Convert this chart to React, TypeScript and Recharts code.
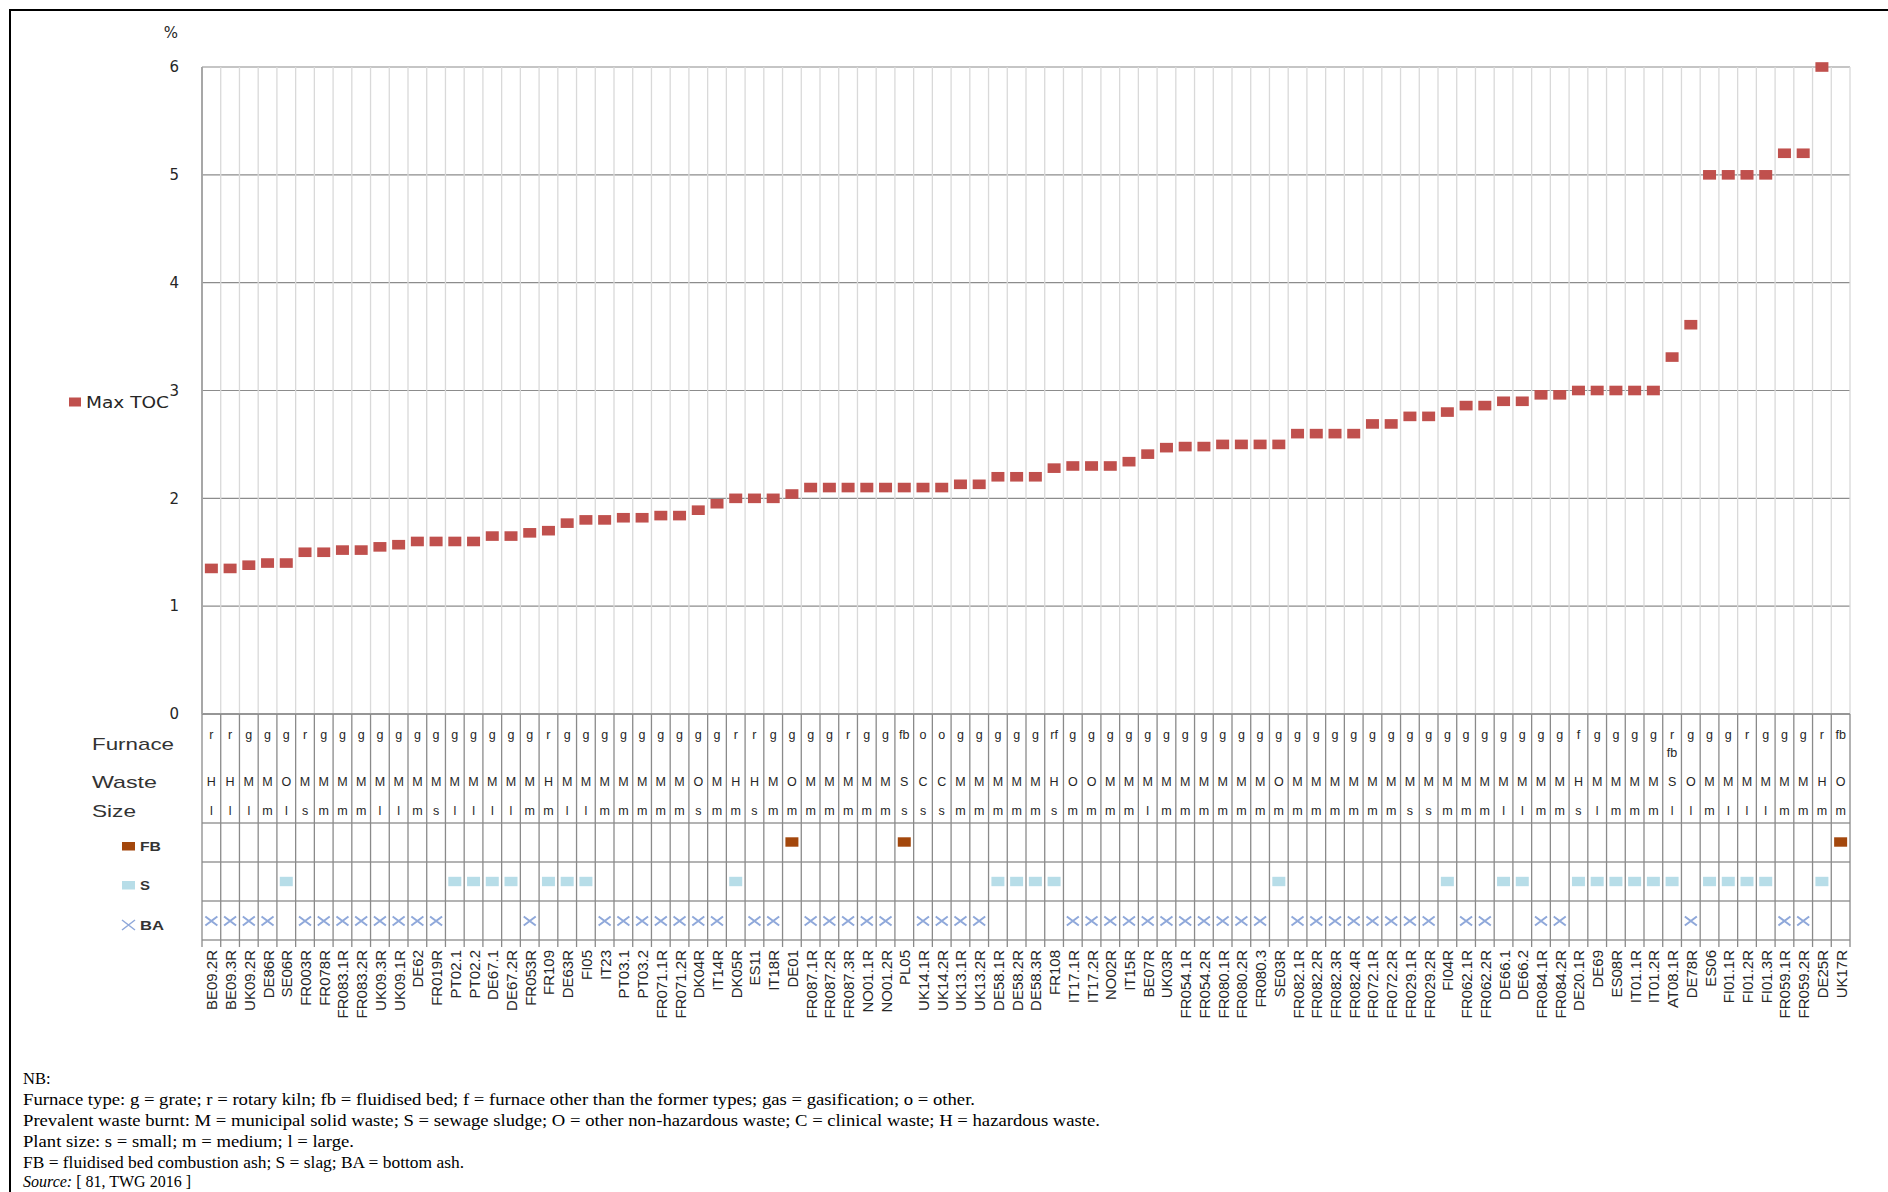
import React from 'react';
import { ComposedChart, Scatter, XAxis, YAxis, CartesianGrid, ReferenceLine } from 'recharts';

// ---------- data ----------
const CATEGORIES = [
  'BE09.2R', 'BE09.3R', 'UK09.2R', 'DE86R', 'SE06R', 'FR003R', 'FR078R', 'FR083.1R', 'FR083.2R', 'UK09.3R', 'UK09.1R',
  'DE62', 'FR019R', 'PT02.1', 'PT02.2', 'DE67.1', 'DE67.2R', 'FR053R', 'FR109', 'DE63R', 'FI05', 'IT23',
  'PT03.1', 'PT03.2', 'FR071.1R', 'FR071.2R', 'DK04R', 'IT14R', 'DK05R', 'ES11', 'IT18R', 'DE01', 'FR087.1R',
  'FR087.2R', 'FR087.3R', 'NO01.1R', 'NO01.2R', 'PL05', 'UK14.1R', 'UK14.2R', 'UK13.1R', 'UK13.2R', 'DE58.1R', 'DE58.2R',
  'DE58.3R', 'FR108', 'IT17.1R', 'IT17.2R', 'NO02R', 'IT15R', 'BE07R', 'UK03R', 'FR054.1R', 'FR054.2R', 'FR080.1R',
  'FR080.2R', 'FR080.3', 'SE03R', 'FR082.1R', 'FR082.2R', 'FR082.3R', 'FR082.4R', 'FR072.1R', 'FR072.2R', 'FR029.1R', 'FR029.2R',
  'FI04R', 'FR062.1R', 'FR062.2R', 'DE66.1', 'DE66.2', 'FR084.1R', 'FR084.2R', 'DE20.1R', 'DE69', 'ES08R', 'IT01.1R',
  'IT01.2R', 'AT08.1R', 'DE78R', 'ES06', 'FI01.1R', 'FI01.2R', 'FI01.3R', 'FR059.1R', 'FR059.2R', 'DE25R', 'UK17R',
];

// furnace type (a space means a second line in the cell)
const FURNACE = [
  'r', 'r', 'g', 'g', 'g', 'r', 'g', 'g', 'g', 'g', 'g', 'g', 'g', 'g', 'g', 'g', 'g', 'g', 'r', 'g', 'g', 'g',
  'g', 'g', 'g', 'g', 'g', 'g', 'r', 'r', 'g', 'g', 'g', 'g', 'r', 'g', 'g', 'fb', 'o', 'o', 'g', 'g', 'g', 'g',
  'g', 'rf', 'g', 'g', 'g', 'g', 'g', 'g', 'g', 'g', 'g', 'g', 'g', 'g', 'g', 'g', 'g', 'g', 'g', 'g', 'g', 'g',
  'g', 'g', 'g', 'g', 'g', 'g', 'g', 'f', 'g', 'g', 'g', 'g', 'r fb', 'g', 'g', 'g', 'r', 'g', 'g', 'g', 'r', 'fb',
];

const WASTE = [
  'H', 'H', 'M', 'M', 'O', 'M', 'M', 'M', 'M', 'M', 'M', 'M', 'M', 'M', 'M', 'M', 'M', 'M', 'H', 'M', 'M', 'M',
  'M', 'M', 'M', 'M', 'O', 'M', 'H', 'H', 'M', 'O', 'M', 'M', 'M', 'M', 'M', 'S', 'C', 'C', 'M', 'M', 'M', 'M',
  'M', 'H', 'O', 'O', 'M', 'M', 'M', 'M', 'M', 'M', 'M', 'M', 'M', 'O', 'M', 'M', 'M', 'M', 'M', 'M', 'M', 'M',
  'M', 'M', 'M', 'M', 'M', 'M', 'M', 'H', 'M', 'M', 'M', 'M', 'S', 'O', 'M', 'M', 'M', 'M', 'M', 'M', 'H', 'O',
];

const SIZE = [
  'l', 'l', 'l', 'm', 'l', 's', 'm', 'm', 'm', 'l', 'l', 'm', 's', 'l', 'l', 'l', 'l', 'm', 'm', 'l', 'l', 'm',
  'm', 'm', 'm', 'm', 's', 'm', 'm', 's', 'm', 'm', 'm', 'm', 'm', 'm', 'm', 's', 's', 's', 'm', 'm', 'm', 'm',
  'm', 's', 'm', 'm', 'm', 'm', 'l', 'm', 'm', 'm', 'm', 'm', 'm', 'm', 'm', 'm', 'm', 'm', 'm', 'm', 's', 's',
  'm', 'm', 'm', 'l', 'l', 'm', 'm', 's', 'l', 'm', 'm', 'm', 'l', 'l', 'm', 'l', 'l', 'l', 'm', 'm', 'm', 'm',
];

const RESIDUE = [
  'BA', 'BA', 'BA', 'BA', 'S', 'BA', 'BA', 'BA', 'BA', 'BA', 'BA', 'BA', 'BA', 'S', 'S', 'S', 'S', 'BA', 'S', 'S', 'S', 'BA',
  'BA', 'BA', 'BA', 'BA', 'BA', 'BA', 'S', 'BA', 'BA', 'FB', 'BA', 'BA', 'BA', 'BA', 'BA', 'FB', 'BA', 'BA', 'BA', 'BA', 'S', 'S',
  'S', 'S', 'BA', 'BA', 'BA', 'BA', 'BA', 'BA', 'BA', 'BA', 'BA', 'BA', 'BA', 'S', 'BA', 'BA', 'BA', 'BA', 'BA', 'BA', 'BA', 'BA',
  'S', 'BA', 'BA', 'S', 'S', 'BA', 'BA', 'S', 'S', 'S', 'S', 'S', 'S', 'BA', 'S', 'S', 'S', 'S', 'BA', 'BA', 'S', 'FB',
];

const MAX_TOC: (number | null)[] = [
  1.35, 1.35, 1.38, 1.4, 1.4, 1.5, 1.5, 1.52, 1.52, 1.55, 1.57, 1.6, 1.6, 1.6, 1.6, 1.65, 1.65, 1.68, 1.7, 1.77, 1.8, 1.8,
  1.82, 1.82, 1.84, 1.84, 1.89, 1.95, 2.0, 2.0, 2.0, 2.04, 2.1, 2.1, 2.1, 2.1, 2.1, 2.1, 2.1, 2.1, 2.13, 2.13, 2.2, 2.2,
  2.2, 2.28, 2.3, 2.3, 2.3, 2.34, 2.41, 2.47, 2.48, 2.48, 2.5, 2.5, 2.5, 2.5, 2.6, 2.6, 2.6, 2.6, 2.69, 2.69, 2.76, 2.76,
  2.8, 2.86, 2.86, 2.9, 2.9, 2.96, 2.96, 3.0, 3.0, 3.0, 3.0, 3.0, 3.31, 3.61, 5.0, 5.0, 5.0, 5.0, 5.2, 5.2, 6.0, null,
];

const Y_TICKS = [0, 1, 2, 3, 4, 5, 6];

const FOOTNOTES = [
  'Furnace type: g = grate; r = rotary kiln; fb = fluidised bed; f = furnace other than the former types; gas = gasification; o = other.',
  'Prevalent waste burnt: M = municipal solid waste; S = sewage sludge; O = other non-hazardous waste; C = clinical waste; H = hazardous waste.',
  'Plant size: s = small; m = medium; l = large.',
  'FB = fluidised bed combustion ash; S = slag; BA = bottom ash.',
];

// ---------- derived table ----------
const N = CATEGORIES.length;
const rows = CATEGORIES.map((name, i) => ({
  name,
  idx: i + 0.5,
  toc: MAX_TOC[i],
  furnace: FURNACE[i],
  waste: WASTE[i],
  size: SIZE[i],
  residue: RESIDUE[i],
}));
const tocPoints = rows.filter((r) => r.toc != null);
const boundaries = Array.from({ length: N + 1 }, (_, i) => i);
const xTicks = rows.map((r) => r.idx);

// ---------- layout / style ----------
const CHART_W = 1888;
const CHART_H = 1030;
const MARGIN = { top: 67, right: 38, left: 0, bottom: 0 };
const Y_AXIS_W = 202;
const X_AXIS_H = 316;
const PLOT_W = CHART_W - MARGIN.left - MARGIN.right - Y_AXIS_W;
const COL_W = PLOT_W / N;

const TOC_COLOR = '#C0504D';
const FB_COLOR = '#A3470C';
const S_COLOR = '#B7DDE8';
const BA_COLOR = '#8FA8DA';
const TABLE_LINE = '#8a8a8a';
const TEXT = '#262626';
const SANS = '"Liberation Sans", Arial, sans-serif';
const VERDANA = '"DejaVu Sans", Verdana, sans-serif';
const SERIF = '"Liberation Serif", "Times New Roman", serif';

const TocShape = (props: any) => {
  const { cx, cy } = props;
  if (cx == null || cy == null || Number.isNaN(cy)) return null;
  return <rect x={cx - 6.5} y={cy - 4.8} width={13} height={9.6} fill={TOC_COLOR} />;
};

const TableTick = (props: any) => {
  const { x, y, payload } = props;
  const i = Math.floor(payload.value);
  const r = rows[i];
  if (!r) return null;
  const l = x - COL_W / 2;
  const rr = x + COL_W / 2;
  const lines = r.furnace.split(' ');
  return (
    <g>
      <line x1={l} x2={l} y1={y} y2={y + 233} stroke={TABLE_LINE} strokeWidth={1.3} />
      {i === N - 1 && <line x1={rr} x2={rr} y1={y} y2={y + 233} stroke={TABLE_LINE} strokeWidth={1.3} />}
      {[109, 148, 187, 226].map((d) => (
        <line key={d} x1={l} x2={rr} y1={y + d} y2={y + d} stroke={TABLE_LINE} strokeWidth={1.3} />
      ))}
      {lines.map((t: string, k: number) => (
        <text key={k} x={x} y={y + 21 + k * 18} textAnchor="middle" dominantBaseline="central"
          fontSize={12.5} fontFamily={SANS} fill={TEXT}>{t}</text>
      ))}
      <text x={x} y={y + 68} textAnchor="middle" dominantBaseline="central" fontSize={12.5} fontFamily={SANS} fill={TEXT}>{r.waste}</text>
      <text x={x} y={y + 97} textAnchor="middle" dominantBaseline="central" fontSize={12.5} fontFamily={SANS} fill={TEXT}>{r.size}</text>
      {r.residue === 'FB' && <rect x={x - 6.5} y={y + 128 - 4.7} width={13} height={9.4} fill={FB_COLOR} />}
      {r.residue === 'S' && <rect x={x - 6.5} y={y + 167.5 - 4.7} width={13} height={9.4} fill={S_COLOR} />}
      {r.residue === 'BA' && (
        <path d={`M${x - 6},${y + 207 - 4.5}L${x + 6},${y + 207 + 4.5}M${x - 6},${y + 207 + 4.5}L${x + 6},${y + 207 - 4.5}`}
          stroke={BA_COLOR} strokeWidth={2} fill="none" />
      )}
      <text transform={`translate(${x + 0.5},${y + 236}) rotate(-90)`} textAnchor="end" dominantBaseline="central"
        fontSize={15} fontFamily={SANS} fill={TEXT}>{r.name}</text>
    </g>
  );
};

export default function App() {
  return (
    <div style={{ position: 'absolute', left: 0, top: 0, width: 1888, height: 1192, overflow: 'hidden', background: '#fff' }}>
      <div style={{ position: 'absolute', left: 9, top: 9, width: 1900, height: 1300, borderTop: '2.5px solid #000', borderLeft: '2.5px solid #000' }} />
      <div style={{ position: 'absolute', left: 0, top: 0 }}>
        <ComposedChart width={CHART_W} height={CHART_H} data={rows} margin={MARGIN}>
          <CartesianGrid vertical={false} stroke="#8c8c8c" strokeWidth={1.2} />
          {boundaries.map((b) => (
            <ReferenceLine key={b} x={b} stroke="#d9d9d9" strokeWidth={1.3} />
          ))}
          <XAxis
            type="number"
            dataKey="idx"
            domain={[0, N]}
            ticks={xTicks}
            interval={0}
            allowDecimals
            height={X_AXIS_H}
            tickLine={false}
            tickSize={0}
            tickMargin={0}
            axisLine={{ stroke: '#868686', strokeWidth: 1.3 }}
            tick={<TableTick />}
          />
          <YAxis
            type="number"
            dataKey="toc"
            domain={[0, 6]}
            ticks={Y_TICKS}
            width={Y_AXIS_W}
            tickLine={false}
            tickSize={0}
            tickMargin={23}
            axisLine={{ stroke: '#a0a0a0', strokeWidth: 1.8 }}
            tick={{ fontSize: 15, fontFamily: VERDANA, fill: TEXT }}
          />
          <Scatter name="Max TOC" data={tocPoints} fill={TOC_COLOR} shape={<TocShape />} isAnimationActive={false} />
        </ComposedChart>
      </div>
      <svg width={1888} height={1192} style={{ position: 'absolute', left: 0, top: 0, pointerEvents: 'none' }}>
        <text x={171} y={33} textAnchor="middle" dominantBaseline="central" fontSize={15} fontFamily={VERDANA} fill={TEXT}>%</text>
        <rect x={69} y={397.5} width={12} height={9} fill={TOC_COLOR} />
        <text x={86} y={402} dominantBaseline="central" fontSize={16} fontFamily={VERDANA} fill={TEXT} textLength={83} lengthAdjust="spacingAndGlyphs">Max TOC</text>
        <text x={92} y={744} dominantBaseline="central" fontSize={17} fontFamily={SANS} fill="#333" textLength={82} lengthAdjust="spacingAndGlyphs">Furnace</text>
        <text x={92} y={782} dominantBaseline="central" fontSize={17} fontFamily={SANS} fill="#333" textLength={65} lengthAdjust="spacingAndGlyphs">Waste</text>
        <text x={92} y={811} dominantBaseline="central" fontSize={17} fontFamily={SANS} fill="#333" textLength={44} lengthAdjust="spacingAndGlyphs">Size</text>
        <rect x={122} y={842} width={13} height={8.5} fill={FB_COLOR} />
        <text x={140} y={846.5} dominantBaseline="central" fontSize={13} fontWeight="bold" fontFamily={SANS} fill="#333" textLength={21} lengthAdjust="spacingAndGlyphs">FB</text>
        <rect x={122} y={881} width={13} height={8.5} fill={S_COLOR} />
        <text x={140} y={885.5} dominantBaseline="central" fontSize={13} fontWeight="bold" fontFamily={SANS} fill="#333" textLength={10} lengthAdjust="spacingAndGlyphs">S</text>
        <path d="M122,920 L135,930 M122,930 L135,920" stroke={BA_COLOR} strokeWidth={1.5} fill="none" />
        <text x={140} y={925} dominantBaseline="central" fontSize={13} fontWeight="bold" fontFamily={SANS} fill="#333" textLength={24} lengthAdjust="spacingAndGlyphs">BA</text>
        <text x={23} y={1078} dominantBaseline="central" fontSize={16.5} fontFamily={SERIF} fill="#000">NB:</text>
        <text x={23} y={1099} dominantBaseline="central" fontSize={16.5} fontFamily={SERIF} fill="#000" textLength={952} lengthAdjust="spacingAndGlyphs">{FOOTNOTES[0]}</text>
        <text x={23} y={1120} dominantBaseline="central" fontSize={16.5} fontFamily={SERIF} fill="#000" textLength={1077} lengthAdjust="spacingAndGlyphs">{FOOTNOTES[1]}</text>
        <text x={23} y={1141} dominantBaseline="central" fontSize={16.5} fontFamily={SERIF} fill="#000" textLength={331} lengthAdjust="spacingAndGlyphs">{FOOTNOTES[2]}</text>
        <text x={23} y={1162} dominantBaseline="central" fontSize={16.5} fontFamily={SERIF} fill="#000" textLength={441} lengthAdjust="spacingAndGlyphs">{FOOTNOTES[3]}</text>
        <text x={23} y={1181} dominantBaseline="central" fontSize={16} fontFamily={SERIF} fill="#000">
          <tspan fontStyle="italic">Source:</tspan> [ 81, TWG 2016 ]
        </text>
      </svg>
    </div>
  );
}
